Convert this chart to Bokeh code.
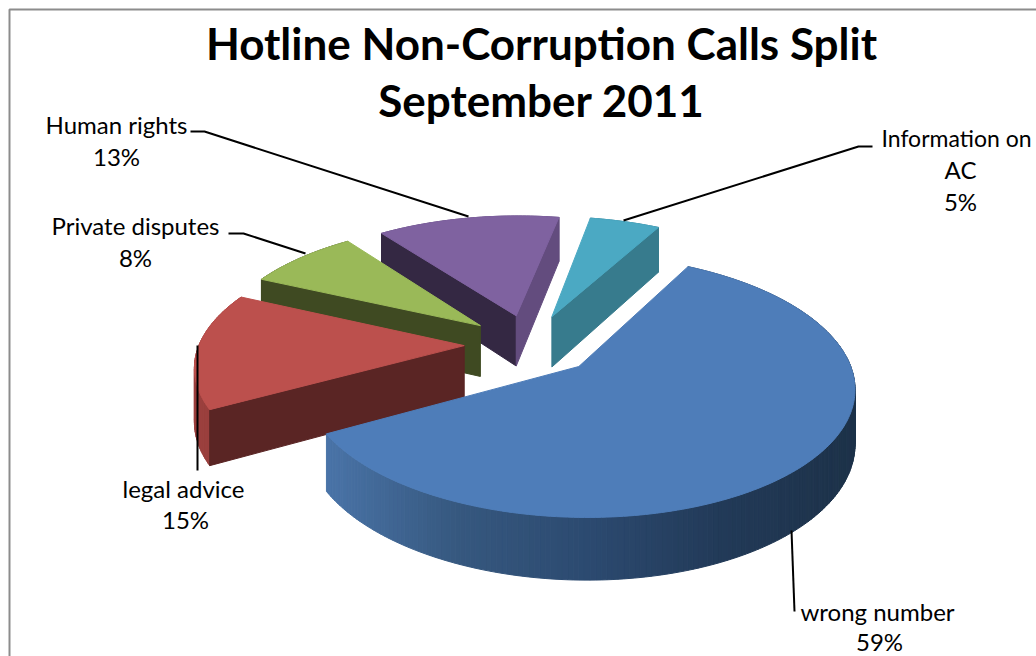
import numpy as np
from bokeh.plotting import figure
from bokeh.core.properties import value
from bokeh.embed import file_html
from bokeh.resources import INLINE

# --- data (clockwise from the first slice)
categories = ["wrong number", "legal advice", "Private disputes", "Human rights", "Information on AC"]
shares = [59, 15, 8, 13, 5]
title_lines = ["Hotline Non-Corruption Calls Split", "September 2011"]

# --- styles
tops = ["#4E7DB9", "#BC504D", "#9AB958", "#7F62A0", "#4BA9C3"]
start_faces = [None, "#5A2524", "#3F4A22", "#342843", None]
end_faces = [None, None, None, "#634C7E", "#377B8D"]
rims = [["#1D3249", "#223A58", "#2C4A70", "#36587F", "#4A74A8"], ["#9A3F3D"], ["#3F4A22"], ["#634C7E"], ["#377B8D"]]

W, H = 1036, 656
FIRST = 28.5
CX, CY = 530.0, 344.0
RX, RY, K = 265.0, 122.0, 0.145
EXPLODE, DEPTH = 0.25, 52.0

def proj(u, v, drop=0.0):
    w = 1.0 / (1.0 + K * v)
    return CX + RX * u * w, CY - RY * v * w + drop * w

def mix(cols, t):
    if len(cols) == 1:
        return cols[0]
    rgb = np.array([[int(c[i:i+2], 16) for i in (1, 3, 5)] for c in cols], dtype=float)
    pos = t * (len(cols) - 1)
    i = min(int(pos), len(cols) - 2)
    c = rgb[i] + (rgb[i + 1] - rgb[i]) * (pos - i)
    return "#%02x%02x%02x" % tuple(int(round(x)) for x in c)

p = figure(width=W, height=H, x_range=(0, W), y_range=(H, 0), toolbar_location=None,
           output_backend="svg", min_border=0, outline_line_color=None)
p.axis.visible = False
p.grid.visible = False

bounds = np.cumsum([0] + shares) / sum(shares) * 360.0 + FIRST
slices = []
for i in range(len(shares)):
    a0, a1 = bounds[i], bounds[i + 1]
    mid = np.radians((a0 + a1) / 2)
    au, av = EXPLODE * np.sin(mid), EXPLODE * np.cos(mid)
    th = np.radians(np.linspace(a0, a1, max(8, int(a1 - a0))))
    slices.append((au, av, th))

for i in [4, 3, 2, 1, 0]:
    au, av, th = slices[i]
    eu, ev = au + np.sin(th), av + np.cos(th)
    tx, ty = proj(eu, ev)
    bx, by = proj(eu, ev, DEPTH)
    ax, ay = proj(au, av)
    axb, ayb = proj(au, av, DEPTH)
    xs, ys, cs = [], [], []
    for j in range(len(th) - 1):
        xs.append([tx[j], tx[j + 1], bx[j + 1], bx[j]])
        ys.append([ty[j], ty[j + 1], by[j + 1], by[j]])
        t = (tx[j] - tx.min()) / max(1.0, tx.max() - tx.min())
        cs.append(mix(rims[i], 1 - t))
    p.patches(xs, ys, fill_color=cs, line_color=cs, line_width=1)
    if start_faces[i]:
        p.patch([ax, tx[0], bx[0], axb], [ay, ty[0], by[0], ayb], fill_color=start_faces[i], line_color=start_faces[i], line_width=1)
    if end_faces[i]:
        p.patch([ax, tx[-1], bx[-1], axb], [ay, ty[-1], by[-1], ayb], fill_color=end_faces[i], line_color=end_faces[i], line_width=1)
    p.patch([ax, *tx], [ay, *ty], fill_color=tops[i], line_color=tops[i], line_width=1)

# frame (left and top edges are the only ones in the picture)
p.line([9, 9, W], [H, 9, 9], line_color="#8C8C8C", line_width=2)

leaders = [
    ([190, 204, 468], [131, 131, 216]),
    ([228, 243, 305], [233, 233, 253]),
    ([872, 858, 623], [146, 146, 220]),
    ([197, 197], [345, 470]),
    ([791, 794], [530, 611]),
]
for lx, ly in leaders:
    p.line(lx, ly, line_color="#000000", line_width=2)

font = value("Lato")
def text(x, y, s, size, style="normal", align="center"):
    p.text([x], [y], text=[s], text_font=font, text_font_size=size, text_font_style=style,
           text_align=align, text_baseline="middle", text_color="#000000")

text(541, 42, title_lines[0], "44px", "bold")
text(541, 99, title_lines[1], "44px", "bold")

S = "24px"
text(116, 124, categories[3], S)
text(116, 156, f"{shares[3]}%", S)
text(135, 225, categories[2], S)
text(135, 257, f"{shares[2]}%", S)
text(183, 488, categories[1], S)
text(185, 519, f"{shares[1]}%", S)
text(877, 611, categories[0], S)
text(879, 641, f"{shares[0]}%", S)
info = categories[4].rsplit(" ", 1)
text(881, 137, info[0], "23px", align="left")
text(960, 169, info[1], S)
text(960, 201, f"{shares[4]}%", S)

open("out.html", "w").write(file_html(p, INLINE))
